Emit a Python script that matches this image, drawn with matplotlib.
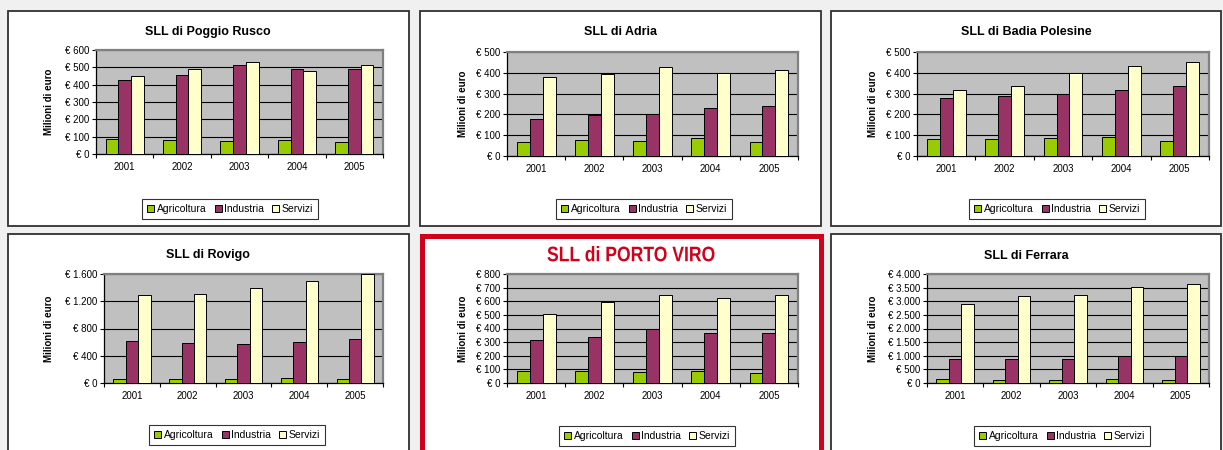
import matplotlib
matplotlib.use("Agg")
import numpy as np
import matplotlib.pyplot as plt
from matplotlib.patches import Rectangle, PathPatch
from matplotlib.textpath import TextPath
from matplotlib.font_manager import FontProperties
from matplotlib.transforms import Affine2D
from matplotlib.ticker import FuncFormatter

plt.rcParams['font.family'] = ['Liberation Sans', 'DejaVu Sans']

W, H = 1223, 450

years = ['2001', '2002', '2003', '2004', '2005']
series = ['Agricoltura', 'Industria', 'Servizi']
colors = ['#99cc00', '#993366', '#ffffcc']

titles = ['SLL di Poggio Rusco', 'SLL di Adria', 'SLL di Badia Polesine',
          'SLL di Rovigo', 'SLL di PORTO VIRO', 'SLL di Ferrara']

# milioni di euro
agri_poggio = [85, 81, 77, 81, 67]
ind_poggio = [425, 456, 513, 488, 488]
serv_poggio = [450, 490, 529, 477, 513]

agri_adria = [69, 79, 74, 85, 69]
ind_adria = [176, 199, 202, 229, 240]
serv_adria = [378, 393, 426, 401, 415]

agri_badia = [80, 80, 85, 90, 74]
ind_badia = [277, 290, 296, 316, 338]
serv_badia = [319, 338, 397, 434, 454]

agri_rovigo = [66, 66, 66, 76, 62]
ind_rovigo = [620, 590, 566, 598, 640]
serv_rovigo = [1295, 1305, 1389, 1502, 1600]

agri_porto = [86, 86, 81, 88, 74]
ind_porto = [312, 336, 393, 368, 368]
serv_porto = [508, 591, 648, 626, 648]

agri_ferrara = [140, 110, 110, 140, 110]
ind_ferrara = [896, 896, 896, 994, 982]
serv_ferrara = [2908, 3202, 3239, 3534, 3620]

data = [
    (agri_poggio, ind_poggio, serv_poggio),
    (agri_adria, ind_adria, serv_adria),
    (agri_badia, ind_badia, serv_badia),
    (agri_rovigo, ind_rovigo, serv_rovigo),
    (agri_porto, ind_porto, serv_porto),
    (agri_ferrara, ind_ferrara, serv_ferrara),
]
ymax = [600, 500, 500, 1600, 800, 4000]
ystep = [100, 100, 100, 400, 100, 500]

# pixel layout: panel box, plot area, title y, legend centre
panels = [(8, 11, 409, 226), (420, 11, 821, 226), (831, 11, 1221, 226),
          (8, 234, 409, 460), (422, 236, 821, 460), (831, 234, 1221, 460)]
plots = [(96, 50, 383, 154), (507, 52, 798, 156), (917, 52, 1209, 156),
         (104, 274, 383, 383), (507, 274, 798, 383), (927, 274, 1209, 383)]
title_xy = [(208, 32), (621, 32), (1026, 32), (208, 255), (631, 254), (1026, 256)]
ylab_x = [49, 463, 873, 49, 463, 873]
legend_xy = [(230, 209), (644, 209), (1057, 209), (237, 435), (647, 436), (1062, 436)]


def fbox(x0, y0, x1, y1):
    return [x0 / W, 1 - y1 / H, (x1 - x0) / W, (y1 - y0) / H]


def euro(v, pos):
    return '€ ' + '{:,.0f}'.format(v).replace(',', '.')


def narrow_title(text, cx, cy, width, cap):
    # condensed bold title, drawn as a path in pixel coords
    tp = TextPath((0, 0), text, size=20,
                  prop=FontProperties(family='Liberation Sans', weight='bold'))
    ext = tp.get_extents()
    capt = TextPath((0, 0), 'L', size=20,
                    prop=FontProperties(family='Liberation Sans', weight='bold')).get_extents()
    sx = width / ext.width
    sy = cap / capt.height
    tr = Affine2D().translate(-ext.x0 - ext.width / 2, -capt.height / 2) \
        .scale(sx, sy).translate(cx, H - cy)
    patch = PathPatch(tr.transform_path(tp), facecolor='#d0021b', edgecolor='none',
                      transform=None)
    fig.add_artist(patch)


fig = plt.figure(figsize=(W / 100, H / 100), dpi=100)
fig.patch.set_facecolor('#eff0ef')

for i in range(6):
    x0, y0, x1, y1 = panels[i]
    if i == 4:
        fig.add_artist(Rectangle((x0 / W, 1 - y1 / H), (x1 - x0) / W, (y1 - y0) / H,
                                 transform=fig.transFigure, facecolor='white',
                                 edgecolor='#d0021b', linewidth=3.6, zorder=0))
    else:
        fig.add_artist(Rectangle((x0 / W, 1 - y1 / H), (x1 - x0) / W, (y1 - y0) / H,
                                 transform=fig.transFigure, facecolor='white',
                                 edgecolor='#303030', linewidth=1.3, zorder=0))

    ax = fig.add_axes(fbox(*plots[i]))
    ax.set_facecolor('#c0c0c0')
    x = np.arange(5) + 0.5
    w = 1 / 4.5
    for k in range(3):
        ax.bar(x + (k - 1) * w, data[i][k], w, color=colors[k], edgecolor='black',
               linewidth=0.7, label=series[k], zorder=3)
    ax.set_xlim(0, 5)
    ax.set_ylim(0, ymax[i])
    ax.set_yticks(np.arange(0, ymax[i] + 1, ystep[i]))
    ax.yaxis.set_major_formatter(FuncFormatter(euro))
    ax.yaxis.grid(True, color='black', linewidth=0.8, zorder=1)
    ax.set_axisbelow(True)
    ax.set_xticks(np.arange(6))
    ax.set_xticklabels([])
    ax.set_xticks(x, minor=True)
    ax.set_xticklabels(years, minor=True)
    ax.tick_params(axis='x', which='major', length=3, width=0.8, direction='out')
    ax.tick_params(axis='x', which='minor', length=0, pad=6, labelsize=7)
    ax.tick_params(axis='y', length=3, width=0.8, pad=2, labelsize=7)
    for s in ['left', 'bottom']:
        ax.spines[s].set_color('black')
        ax.spines[s].set_linewidth(0.9)
    for s in ['top', 'right']:
        ax.spines[s].set_color('#808080')
        ax.spines[s].set_linewidth(1.6)

    tx, ty = title_xy[i]
    if i == 4:
        narrow_title(titles[i], tx, ty, 167, 14.5)
    else:
        fig.text(tx / W, 1 - ty / H, titles[i], ha='center', va='center',
                 fontsize=9, fontweight='bold')
    py = (plots[i][1] + plots[i][3]) / 2
    fig.text(ylab_x[i] / W, 1 - py / H, 'Milioni di euro', rotation=90,
             ha='center', va='center', fontsize=7, fontweight='bold')

    lx, ly = legend_xy[i]
    leg = fig.legend(*ax.get_legend_handles_labels(), loc='center',
                     bbox_to_anchor=(lx / W, 1 - ly / H), ncol=3, fontsize=7.5,
                     frameon=True, fancybox=False, handlelength=0.7,
                     handleheight=0.7, handletextpad=0.2, columnspacing=0.8,
                     borderpad=0.45, borderaxespad=0)
    leg.get_frame().set_edgecolor('black')
    leg.get_frame().set_linewidth(0.8)

fig.savefig('out.png', dpi=100, facecolor=fig.get_facecolor())
